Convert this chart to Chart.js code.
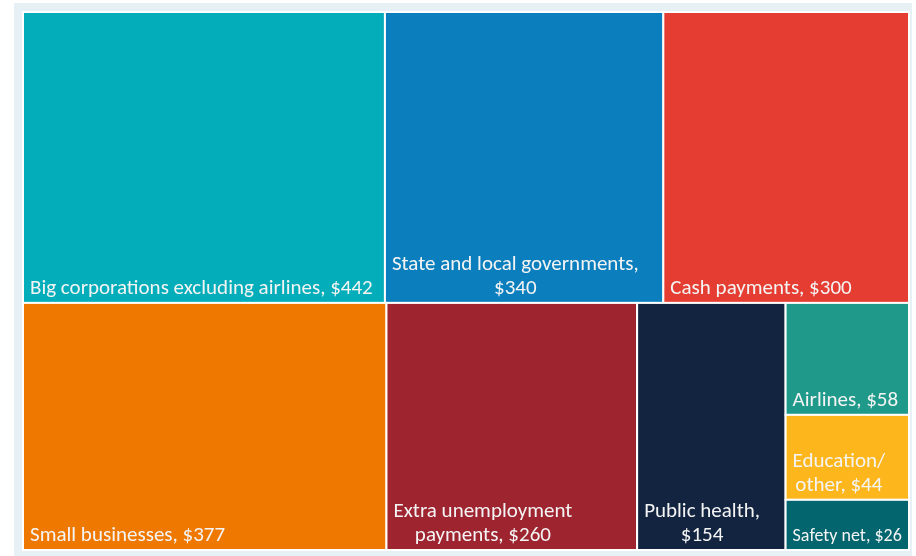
<!DOCTYPE html>
<html>
<head>
<meta charset="utf-8">
<title>Stimulus spending</title>
<script src="https://cdn.jsdelivr.net/npm/chart.js@4.4.1/dist/chart.umd.min.js"></script>
<style>
  html, body { margin: 0; padding: 0; background: #fff; }
  .frame { position: absolute; left: 14px; top: 3px; width: 898px; height: 553px; background: #e7f0f4; }
</style>
</head>
<body>
<div class="frame">
  <canvas id="tree" width="898" height="553"></canvas>
</div>
<script>
const categories = [
  "Big corporations excluding airlines",
  "State and local governments",
  "Cash payments",
  "Small businesses",
  "Extra unemployment payments",
  "Public health",
  "Airlines",
  "Education/ other",
  "Safety net"
];
const amounts = [442, 340, 300, 377, 260, 154, 58, 44, 26];
const colors = [
  "#03adb9", "#0b7fbd", "#e53d31", "#ef7800", "#9e2530",
  "#12243f", "#1f998a", "#fdb71c", "#03666e"
];
// two rows, the last entry of the second row is a stacked column
const rows = [[0, 1, 2], [3, 4, 5, [6, 7, 8]]];

const sum = idx => idx.reduce((s, i) => s + (Array.isArray(i) ? sum(i) : amounts[i]), 0);

// rectangles in value space (0..1 on both axes)
function layout() {
  const total = sum(rows.flat(2));
  const boxes = [];
  let y0 = 0;
  rows.forEach(row => {
    const rowSum = sum(row);
    const h = rowSum / total;
    let x0 = 0;
    row.forEach(item => {
      const part = Array.isArray(item) ? sum(item) : amounts[item];
      const w = part / rowSum;
      if (Array.isArray(item)) {
        let cy = y0;
        item.forEach(i => {
          const ch = h * amounts[i] / part;
          boxes.push({ i, x0, x1: x0 + w, y0: cy, y1: cy + ch });
          cy += ch;
        });
      } else {
        boxes.push({ i: item, x0, x1: x0 + w, y0, y1: y0 + h });
      }
      x0 += w;
    });
    y0 += h;
  });
  return boxes;
}

function wrap(ctx, text, maxW) {
  const words = text.split(" ");
  const lines = [];
  let cur = "";
  words.forEach(w => {
    const test = cur ? cur + " " + w : w;
    if (cur && ctx.measureText(test).width > maxW) {
      lines.push(cur);
      cur = w;
    } else {
      cur = test;
    }
  });
  lines.push(cur);
  return lines;
}

const treemapPlugin = {
  id: "treemapBoxes",
  afterDatasetsDraw(chart) {
    const { ctx, scales: { x, y } } = chart;
    ctx.save();
    layout().forEach(b => {
      const left = x.getPixelForValue(b.x0);
      const right = x.getPixelForValue(b.x1);
      const top = y.getPixelForValue(b.y0);
      const bottom = y.getPixelForValue(b.y1);
      ctx.fillStyle = colors[b.i];
      ctx.fillRect(left, top, right - left, bottom - top);
      ctx.strokeStyle = "#ffffff";
      ctx.lineWidth = 2;
      ctx.strokeRect(left, top, right - left, bottom - top);

      const small = bottom - top < 60;
      const size = small ? 18 : 21;
      ctx.font = size + "px Carlito, Lato, sans-serif";
      ctx.fillStyle = "#f4f4f4";
      ctx.textAlign = "center";
      ctx.textBaseline = "alphabetic";
      const label = categories[b.i] + ", $" + amounts[b.i];
      const lines = wrap(ctx, label, right - left - 8);
      const blockW = Math.max(...lines.map(l => ctx.measureText(l).width));
      const cx = left + 7 + blockW / 2;
      const lh = 24;
      lines.forEach((l, k) => {
        ctx.fillText(l, cx, bottom - 9 - (lines.length - 1 - k) * lh);
      });
    });
    ctx.restore();
  }
};

new Chart(document.getElementById("tree"), {
  type: "scatter",
  data: { datasets: [{ label: "Stimulus", data: [] }] },
  options: {
    responsive: false,
    animation: false,
    layout: { padding: { left: 9, top: 9, right: 3, bottom: 6 } },
    plugins: { legend: { display: false }, tooltip: { enabled: false } },
    scales: {
      x: { type: "linear", min: 0, max: 1, display: false },
      y: { type: "linear", min: 0, max: 1, reverse: true, display: false }
    }
  },
  plugins: [treemapPlugin]
});
</script>
</body>
</html>
